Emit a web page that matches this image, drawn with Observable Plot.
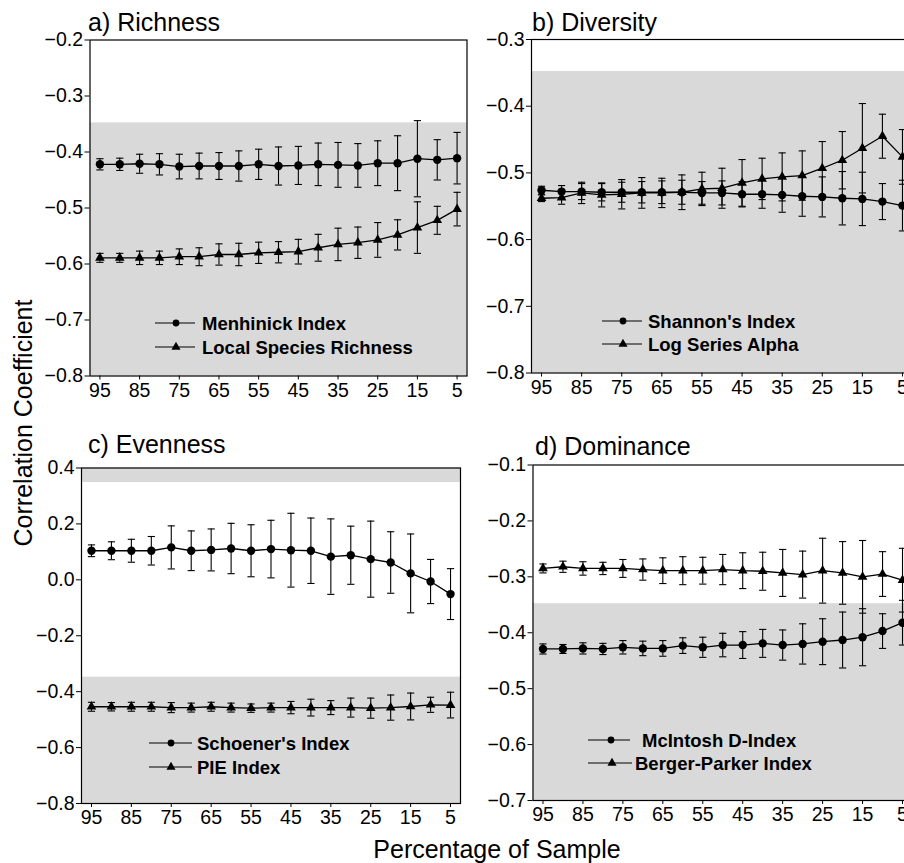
<!DOCTYPE html>
<html><head><meta charset="utf-8">
<script src="https://cdn.jsdelivr.net/npm/d3@7"></script>
<script src="https://cdn.jsdelivr.net/npm/@observablehq/plot@0.6"></script>
<style>
body{margin:0;background:#fff;}
#fig{position:relative;width:904px;height:863px;overflow:hidden;background:#fff;font-family:"Liberation Sans",Arial,Helvetica,sans-serif;}
#fig svg{position:absolute;}
</style></head><body><div id="fig"></div>
<script>
// ---- data ----
const pct = [95,90,85,80,75,70,65,60,55,50,45,40,35,30,25,20,15,10,5];
const xTicks = [95,85,75,65,55,45,35,25,15,5];
const sigThreshold = 0.348;

const menhinick    = [-0.422,-0.422,-0.421,-0.422,-0.426,-0.425,-0.425,-0.425,-0.422,-0.425,-0.424,-0.422,-0.423,-0.424,-0.420,-0.420,-0.412,-0.414,-0.411];
const menhinickErr = [0.010,0.011,0.017,0.019,0.022,0.023,0.024,0.027,0.027,0.034,0.034,0.038,0.040,0.039,0.040,0.049,0.068,0.036,0.046];
const localRich    = [-0.589,-0.589,-0.589,-0.589,-0.587,-0.587,-0.583,-0.583,-0.580,-0.579,-0.578,-0.571,-0.565,-0.562,-0.557,-0.548,-0.535,-0.522,-0.502];
const localRichErr = [0.008,0.008,0.012,0.012,0.014,0.016,0.019,0.020,0.019,0.019,0.022,0.024,0.029,0.028,0.031,0.027,0.046,0.025,0.030];

const shannon      = [-0.526,-0.528,-0.528,-0.529,-0.529,-0.529,-0.529,-0.529,-0.530,-0.530,-0.532,-0.532,-0.533,-0.535,-0.536,-0.538,-0.539,-0.543,-0.549];
const shannonErr   = [0.006,0.009,0.012,0.013,0.015,0.016,0.017,0.018,0.017,0.018,0.019,0.021,0.026,0.030,0.030,0.040,0.040,0.027,0.038];
const logAlpha     = [-0.538,-0.537,-0.530,-0.533,-0.532,-0.530,-0.530,-0.529,-0.524,-0.523,-0.515,-0.509,-0.506,-0.504,-0.493,-0.481,-0.463,-0.445,-0.476];
const logAlphaErr  = [0.005,0.010,0.016,0.018,0.022,0.023,0.022,0.026,0.025,0.030,0.035,0.031,0.036,0.037,0.040,0.043,0.067,0.033,0.041];

const schoener     = [0.104,0.104,0.104,0.104,0.116,0.104,0.107,0.112,0.104,0.110,0.106,0.104,0.083,0.088,0.074,0.062,0.023,-0.006,-0.051];
const schoenerErr  = [0.021,0.032,0.041,0.051,0.077,0.071,0.075,0.090,0.093,0.103,0.132,0.117,0.135,0.104,0.136,0.110,0.141,0.079,0.091];
const pie          = [-0.454,-0.454,-0.454,-0.454,-0.457,-0.457,-0.454,-0.457,-0.459,-0.457,-0.457,-0.457,-0.457,-0.457,-0.459,-0.457,-0.453,-0.447,-0.448];
const pieErr       = [0.016,0.015,0.016,0.016,0.018,0.016,0.016,0.016,0.015,0.016,0.022,0.030,0.025,0.034,0.036,0.045,0.048,0.027,0.046];

const mcintosh     = [-0.429,-0.429,-0.428,-0.429,-0.426,-0.428,-0.428,-0.423,-0.426,-0.422,-0.422,-0.419,-0.422,-0.420,-0.416,-0.413,-0.408,-0.397,-0.382];
const mcintoshErr  = [0.009,0.008,0.010,0.010,0.012,0.013,0.014,0.014,0.018,0.021,0.024,0.025,0.027,0.036,0.041,0.050,0.051,0.031,0.040];
const berger       = [-0.285,-0.282,-0.285,-0.285,-0.285,-0.287,-0.289,-0.289,-0.289,-0.287,-0.289,-0.290,-0.293,-0.296,-0.289,-0.293,-0.300,-0.295,-0.306];
const bergerErr    = [0.008,0.010,0.012,0.011,0.016,0.019,0.023,0.025,0.024,0.027,0.032,0.034,0.042,0.042,0.058,0.056,0.065,0.040,0.057];

const titles = ["a) Richness","b) Diversity","c) Evenness","d) Dominance"];
const seriesNames = [["Menhinick Index","Local Species Richness"],["Shannon's Index","Log Series Alpha"],["Schoener's Index","PIE Index"],["McIntosh D-Index","Berger-Parker Index"]];
const yDomains = [[-0.8,-0.2],[-0.8,-0.3],[-0.8,0.4],[-0.7,-0.1]];
const yTickLists = [
  [-0.8,-0.7,-0.6,-0.5,-0.4,-0.3,-0.2],
  [-0.8,-0.7,-0.6,-0.5,-0.4,-0.3],
  [-0.8,-0.6,-0.4,-0.2,0.0,0.2,0.4],
  [-0.7,-0.6,-0.5,-0.4,-0.3,-0.2,-0.1]
];
const xLabel = "Percentage of Sample";
const yLabel = "Correlation Coefficient";

// ---- layout ----
const xDomain = [97.5, 2.5];
const layouts = [
  {left:0,   top:0,   width:480, height:410, mL:89.5, mR:13.5, mT:39.5, mB:34.5},
  {left:470, top:0,   width:460, height:410, mL:61,   mR:18,   mT:39,   mB:37.5},
  {left:0,   top:420, width:480, height:420, mL:81,   mR:20,   mT:47.5, mB:37},
  {left:470, top:420, width:460, height:420, mL:62.5, mR:18,   mT:44.5, mB:40}
];
const seriesData = [
  [[menhinick, menhinickErr],[localRich, localRichErr]],
  [[shannon, shannonErr],[logAlpha, logAlphaErr]],
  [[schoener, schoenerErr],[pie, pieErr]],
  [[mcintosh, mcintoshErr],[berger, bergerErr]]
];
const symbols = ["circle","triangle"];

const capSymbol = { draw(ctx, size){ const w = Math.sqrt(size/Math.PI); ctx.moveTo(-w,0); ctx.lineTo(w,0); } };
const shade = "#d9d9d9";
const fig = document.getElementById("fig");

layouts.forEach((L, k) => {
  const [ymin, ymax] = yDomains[k];
  const bands = [];
  bands.push({y1: ymin, y2: Math.min(-sigThreshold, ymax)});
  if (ymax > sigThreshold) bands.push({y1: sigThreshold, y2: ymax});
  const marks = [
    Plot.rect(bands, {x1: xDomain[0], x2: xDomain[1], y1: "y1", y2: "y2", fill: shade})
  ];
  seriesData[k].forEach(([vals, errs], s) => {
    const rows = pct.map((p, i) => ({p, v: vals[i], lo: vals[i] - errs[i], hi: vals[i] + errs[i]}));
    marks.push(
      Plot.ruleX(rows, {x: "p", y1: "lo", y2: "hi", stroke: "black", strokeWidth: 1.1}),
      Plot.dot(rows, {x: "p", y: "lo", symbol: capSymbol, r: 3.6, stroke: "black", strokeWidth: 1.1, fill: "none"}),
      Plot.dot(rows, {x: "p", y: "hi", symbol: capSymbol, r: 3.6, stroke: "black", strokeWidth: 1.1, fill: "none"}),
      Plot.line(rows, {x: "p", y: "v", stroke: "black", strokeWidth: 1.3}),
      Plot.dot(rows, {x: "p", y: "v", symbol: symbols[s], r: symbols[s] === "circle" ? 4.2 : 3.6, fill: "black", stroke: "none"})
    );
  });
  marks.push(
    Plot.frame({stroke: "black", strokeWidth: 1.2}),
    Plot.axisX({ticks: xTicks, tickSize: 4, tickPadding: 3, label: null, fontSize: 19.5}),
    Plot.axisY({ticks: yTickLists[k], tickSize: 5, tickPadding: 2, label: null, fontSize: 19.5, tickFormat: d3.format(".1f")})
  );
  const svg = Plot.plot({
    width: L.width, height: L.height,
    marginLeft: L.mL, marginRight: L.mR, marginTop: L.mT, marginBottom: L.mB,
    x: {domain: xDomain},
    y: {domain: yDomains[k]},
    style: {background: "transparent", maxWidth: "none", color: "black", fontFamily: '"Liberation Sans", Arial, sans-serif', overflow: "visible"},
    marks
  });
  svg.style.left = L.left + "px";
  svg.style.top = L.top + "px";
  fig.appendChild(svg);
});

// ---- overlay: titles, axis titles, legends ----
const ov = d3.select(fig).append("svg").attr("width", 904).attr("height", 863)
  .style("left","0px").style("top","0px")
  .attr("font-family", '"Liberation Sans", Arial, sans-serif');

const titlePos = [[88,31],[532,31],[88,453],[535,455]];
titles.forEach((t, k) => {
  ov.append("text").attr("x", titlePos[k][0]).attr("y", titlePos[k][1]).attr("font-size", 25).text(t);
});
ov.append("text").attr("x", 497).attr("y", 858).attr("text-anchor","middle").attr("font-size", 25).text(xLabel);
ov.append("text").attr("transform","translate(32,423) rotate(-90)").attr("text-anchor","middle").attr("font-size", 25).text(yLabel);

const legendPos = [
  [{x1:155,x2:195,m:176,tx:202,y:323},{x1:155,x2:195,m:176,tx:202,y:347}],
  [{x1:602,x2:642,m:623,tx:648,y:321},{x1:602,x2:642,m:623,tx:648,y:344}],
  [{x1:149,x2:192,m:171,tx:197,y:743},{x1:149,x2:192,m:171,tx:197,y:767}],
  [{x1:588,x2:630,m:611,tx:642,y:740},{x1:588,x2:632,m:612,tx:635,y:763}]
];
legendPos.forEach((rows, k) => {
  rows.forEach((r, s) => {
    ov.append("line").attr("x1", r.x1).attr("x2", r.x2).attr("y1", r.y).attr("y2", r.y).attr("stroke","black").attr("stroke-width",1.2);
    ov.append("path").attr("transform", `translate(${r.m},${r.y})`)
      .attr("d", d3.symbol(s === 0 ? d3.symbolCircle : d3.symbolTriangle, 36)())
      .attr("fill","black");
    ov.append("text").attr("x", r.tx).attr("y", r.y).attr("dy","0.36em").attr("font-size", 18.5).attr("font-weight","bold").text(seriesNames[k][s]);
  });
});
</script></body></html>
